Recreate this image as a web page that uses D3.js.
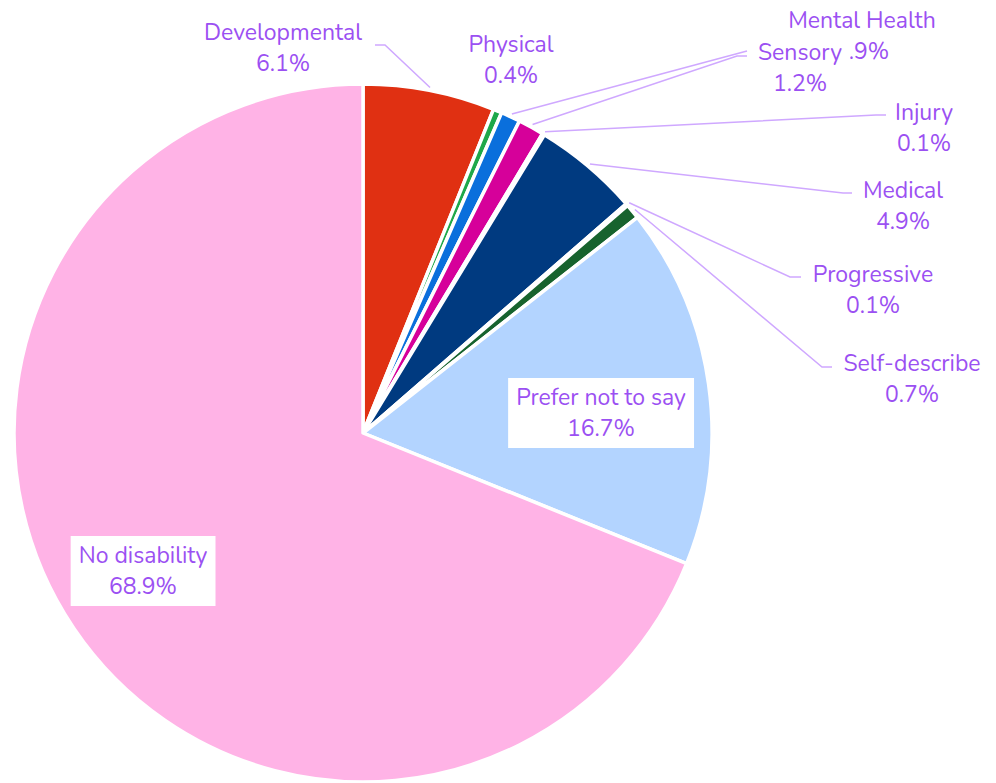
<!DOCTYPE html>
<html>
<head>
<meta charset="utf-8">
<script src="https://cdn.jsdelivr.net/npm/d3@7"></script>
<style>
  html, body { margin: 0; padding: 0; background: #fff; }
  svg { display: block; }
  .lbl { font-family: "Nunito", "Noto Sans", sans-serif; font-size: 23px; fill: #9b50f2; }
</style>
</head>
<body>
<div id="chart"></div>
<script>
// categories and shares (percent), clockwise from 12 o'clock
const categories = ['Developmental', 'Physical', 'Mental Health', 'Sensory', 'Injury', 'Medical', 'Progressive', 'Self-describe', 'Prefer not to say', 'No disability'];
const shares = [6.1, 0.4, 0.9, 1.2, 0.1, 4.9, 0.1, 0.7, 16.7, 68.9];
const colors = ['#e03012', '#1fa84a', '#0a6fdc', '#d6009a', '#f0a000', '#003a80', '#7a2fbf', '#17632e', '#b3d4ff', '#ffb3e6'];

// label placement (centre x, first baseline y) and leader elbows, layout only
const labelLayout = {
    'Developmental':     { x: 283, y: 40, elbow: [[385, 45], [375, 45]] },
    'Physical':          { x: 511, y: 52, elbow: null },
    'Mental Health':     { x: 862, y: 28, elbow: [[747, 51]] },
    'Sensory':           { x: 800, y: 60, elbow: [[737, 56], [747, 56]] },
    'Injury':            { x: 924, y: 120, elbow: [[876, 115], [886, 115]] },
    'Medical':           { x: 903, y: 198, elbow: [[843, 193], [852, 193]] },
    'Progressive':       { x: 873, y: 282, elbow: [[790, 277], [801, 277]] },
    'Self-describe':     { x: 912, y: 371, elbow: [[822, 367], [832, 367]] },
    'Prefer not to say': { x: 601, y: 405, elbow: null },
    'No disability':     { x: 143, y: 563, elbow: null }
};

const width = 996, height = 783;
const cx = 363, cy = 433, radius = 349;
const lineGap = 31;

const data = categories.map((c, i) => ({ name: c, value: shares[i], color: colors[i] }));

const svg = d3.select('#chart').append('svg')
    .attr('width', width)
    .attr('height', height);

const g = svg.append('g').attr('transform', `translate(${cx},${cy})`);

const pie = d3.pie().sort(null).value(d => d.value);
const arcs = pie(data);

const arcGen = d3.arc().innerRadius(0).outerRadius(radius);
const edgeArc = d3.arc().innerRadius(radius + 3).outerRadius(radius + 3);

g.selectAll('path.slice')
    .data(arcs)
    .enter().append('path')
    .attr('class', 'slice')
    .attr('d', arcGen)
    .attr('fill', d => d.data.color)
    .attr('stroke', '#fff')
    .attr('stroke-width', 3.5)
    .attr('stroke-linejoin', 'round');

// leader lines
const leaders = svg.append('g');
arcs.forEach(d => {
    const lay = labelLayout[d.data.name];
    if (!lay.elbow) return;
    const p = edgeArc.centroid(d);
    const pts = [[p[0] + cx, p[1] + cy]].concat(lay.elbow);
    leaders.append('path')
        .attr('d', d3.line()(pts))
        .attr('fill', 'none')
        .attr('stroke', '#cfa8ff')
        .attr('stroke-width', 1.5);
});

// labels with white boxes
const labels = svg.append('g');
arcs.forEach(d => {
    const lay = labelLayout[d.data.name];
    const lg = labels.append('g');
    const rect = lg.append('rect').attr('fill', '#fff');
    const t = lg.append('text')
        .attr('class', 'lbl')
        .attr('text-anchor', 'middle');
    t.append('tspan').attr('x', lay.x).attr('y', lay.y).text(d.data.name);
    t.append('tspan').attr('x', lay.x).attr('y', lay.y + lineGap).text(d.data.value + '%');
    const bb = t.node().getBBox();
    rect.attr('x', bb.x - 8).attr('y', bb.y - 4)
        .attr('width', bb.width + 16).attr('height', bb.height + 8);
});
</script>
</body>
</html>
